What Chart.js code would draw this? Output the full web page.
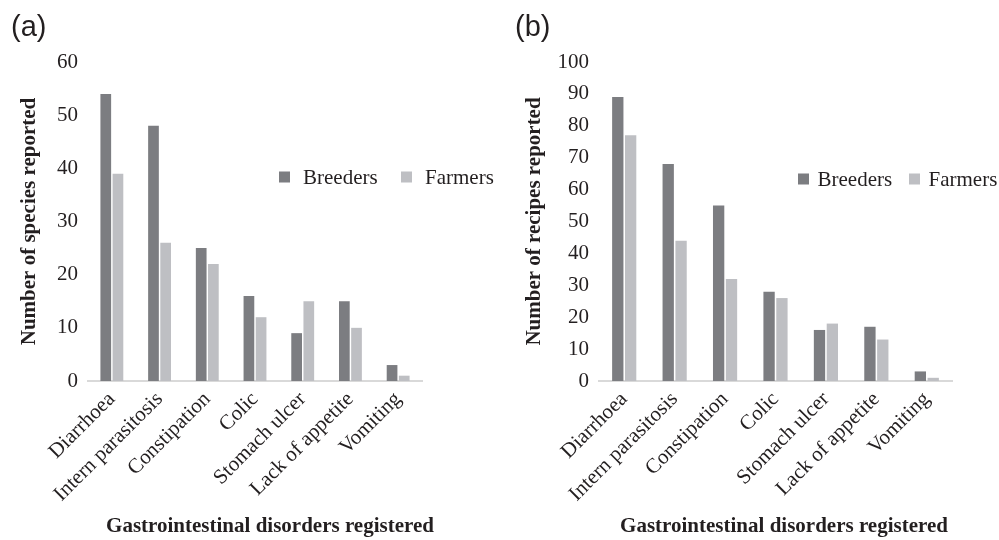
<!DOCTYPE html>
<html>
<head>
<meta charset="utf-8">
<script src="https://cdn.jsdelivr.net/npm/chart.js@4.4.1/dist/chart.umd.min.js"></script>
<style>
  html, body { margin: 0; padding: 0; background: #ffffff; }
  #wrap { position: relative; width: 999px; height: 540px; overflow: hidden; }
  .panel { position: absolute; top: 0; height: 540px; }
  #pa { left: 0; width: 500px; }
  #pb { left: 500px; width: 499px; }
  .tag { position: absolute; top: 10px; font-family: "Liberation Sans", Arial, sans-serif; font-size: 29px; color: #231f20; }
</style>
</head>
<body>
<div id="wrap">
  <div class="panel" id="pa"><canvas id="ca" width="500" height="540"></canvas></div>
  <div class="panel" id="pb"><canvas id="cb" width="499" height="540"></canvas></div>
  <div class="tag" style="left:11px">(a)</div>
  <div class="tag" style="left:515px">(b)</div>
</div>
<script>
// Gastrointestinal disorders and the number of species / recipes reported
const disorders = ['Diarrhoea', 'Intern parasitosis', 'Constipation', 'Colic', 'Stomach ulcer', 'Lack of appetite', 'Vomiting'];
const groups = ['Breeders', 'Farmers'];

const speciesBreeders = [54, 48, 25, 16, 9, 15, 3];
const speciesFarmers  = [39, 26, 22, 12, 15, 10, 1];

const recipesBreeders = [89, 68, 55, 28, 16, 17, 3];
const recipesFarmers  = [77, 44, 32, 26, 18, 13, 1];

const speciesMax = 60;
const recipesMax = 100;
const tickStep = 10;

const xTitle = 'Gastrointestinal disorders registered';
const speciesTitle = 'Number of species reported';
const recipesTitle = 'Number of recipes reported';

const colors = ['#7c7d81', '#bebfc3'];
const textColor = '#231f20';
const serif = '"Liberation Serif", "Times New Roman", serif';

// Legend drawn as small squares followed by the series names
const squareLegend = {
  id: 'squareLegend',
  afterDraw(chart, args, opts) {
    const ctx = chart.ctx;
    ctx.save();
    ctx.font = opts.font;
    ctx.textBaseline = 'middle';
    ctx.textAlign = 'left';
    chart.data.datasets.forEach((ds, i) => {
      const x = opts.xs[i];
      ctx.fillStyle = ds.backgroundColor;
      ctx.fillRect(x, opts.y - 5.5, 11, 11);
      ctx.fillStyle = textColor;
      ctx.fillText(ds.label, x + opts.gap, opts.y + 1);
    });
    ctx.restore();
  }
};

// Horizontal axis title, set a little right of the plot centre
const bottomTitle = {
  id: 'bottomTitle',
  afterDraw(chart, args, opts) {
    const ctx = chart.ctx;
    ctx.save();
    ctx.font = 'bold 21px ' + serif;
    ctx.fillStyle = textColor;
    ctx.textAlign = 'center';
    ctx.textBaseline = 'middle';
    ctx.fillText(opts.text, opts.x, opts.y);
    ctx.restore();
  }
};

function buildChart(id, breeders, farmers, yMax, yTitle, g) {
  return new Chart(document.getElementById(id), {
    type: 'bar',
    data: {
      labels: disorders,
      datasets: [
        { label: groups[0], data: breeders, backgroundColor: colors[0] },
        { label: groups[1], data: farmers, backgroundColor: colors[1] }
      ]
    },
    options: {
      responsive: false,
      animation: false,
      devicePixelRatio: 1,
      layout: { padding: { left: g.padL, right: g.padR, top: 62, bottom: 0 } },
      datasets: { bar: { barPercentage: 0.88, categoryPercentage: 0.51, borderWidth: 0 } },
      plugins: {
        legend: { display: false },
        tooltip: { enabled: false },
        squareLegend: { xs: g.legendXs, y: g.legendY, gap: g.gap, font: '21px ' + serif },
        bottomTitle: { text: xTitle, x: g.titleX, y: 527 }
      },
      scales: {
        x: {
          grid: { display: false, drawTicks: false },
          border: { display: true, color: '#d9d9d9', width: 2 },
          ticks: {
            autoSkip: false, minRotation: 45, maxRotation: 45, padding: 6,
            color: textColor, font: { family: serif, size: 21 }
          },
          afterFit: s => { s.height = 540 - 381; }
        },
        y: {
          min: 0, max: yMax,
          grid: { display: false, drawTicks: false },
          border: { display: false },
          ticks: { stepSize: tickStep, padding: 10, color: textColor, font: { family: serif, size: 21 } },
          title: {
            display: true, text: yTitle, color: textColor,
            font: { family: serif, size: 21, weight: 'bold' }, padding: { top: 4, bottom: 0 }
          },
          afterFit: s => { s.width = g.left - g.padL; }
        }
      }
    },
    plugins: [squareLegend, bottomTitle]
  });
}

buildChart('ca', speciesBreeders, speciesFarmers, speciesMax, speciesTitle,
  { padL: 13, padR: 78, left: 88, legendXs: [279, 401], legendY: 177, gap: 24, titleX: 270 });
buildChart('cb', recipesBreeders, recipesFarmers, recipesMax, recipesTitle,
  { padL: 18, padR: 47, left: 99, legendXs: [298, 409], legendY: 179, gap: 19.5, titleX: 284 });
</script>
</body>
</html>
